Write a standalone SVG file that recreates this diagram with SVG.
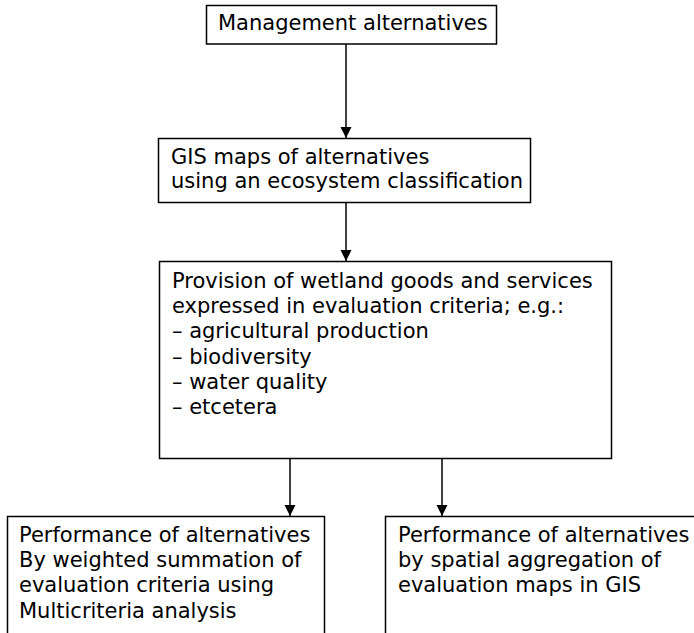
<svg xmlns="http://www.w3.org/2000/svg" width="694" height="633" viewBox="0 0 694 633">
<style>
.box{fill:#fff;stroke:#000;stroke-width:1.5}
.t{font-family:"DejaVu Sans",Verdana,sans-serif;font-size:21px;fill:#000}
.c{stroke:#000;stroke-width:1.5;fill:none}
</style>
<defs>
<marker id="ah" markerUnits="userSpaceOnUse" markerWidth="12" markerHeight="12" refX="11" refY="5.5" orient="auto">
<path d="M0,0 L11,5.5 L0,11 Z" fill="#000"/>
</marker>
</defs>
<rect width="694" height="633" fill="#fff"/>
<g id="connectors">
<line class="c" x1="346" y1="44" x2="346" y2="138" marker-end="url(#ah)"/>
<line class="c" x1="346" y1="203" x2="346" y2="261" marker-end="url(#ah)"/>
<line class="c" x1="290" y1="459" x2="290" y2="516" marker-end="url(#ah)"/>
<line class="c" x1="442" y1="459" x2="442" y2="516" marker-end="url(#ah)"/>
</g>
<g id="n1">
<rect class="box" x="206.5" y="5.5" width="290" height="38.5"/>
<text class="t" x="218" y="30">Management alternatives</text>
</g>
<g id="n2">
<rect class="box" x="158.5" y="138.5" width="372" height="64"/>
<text class="t" x="171" y="164">GIS maps of alternatives</text>
<text class="t" x="171" y="188">using an ecosystem classification</text>
</g>
<g id="n3">
<rect class="box" x="159.5" y="261.5" width="452" height="197"/>
<text class="t" x="172" y="288">Provision of wetland goods and services</text>
<text class="t" x="172" y="313">expressed in evaluation criteria; e.g.:</text>
<text class="t" x="172" y="338">– agricultural production</text>
<text class="t" x="172" y="364">– biodiversity</text>
<text class="t" x="172" y="389">– water quality</text>
<text class="t" x="172" y="414">– etcetera</text>
</g>
<g id="n4">
<rect class="box" x="7.5" y="516.5" width="317" height="200"/>
<text class="t" x="19" y="541.5">Performance of alternatives</text>
<text class="t" x="19" y="566.5">By weighted summation of</text>
<text class="t" x="19" y="592">evaluation criteria using</text>
<text class="t" x="19" y="617.5">Multicriteria analysis</text>
</g>
<g id="n5">
<rect class="box" x="385.5" y="516.5" width="400" height="200"/>
<text class="t" x="398" y="541.5">Performance of alternatives</text>
<text class="t" x="398" y="566.5">by spatial aggregation of</text>
<text class="t" x="398" y="592">evaluation maps in GIS</text>
</g>
</svg>
